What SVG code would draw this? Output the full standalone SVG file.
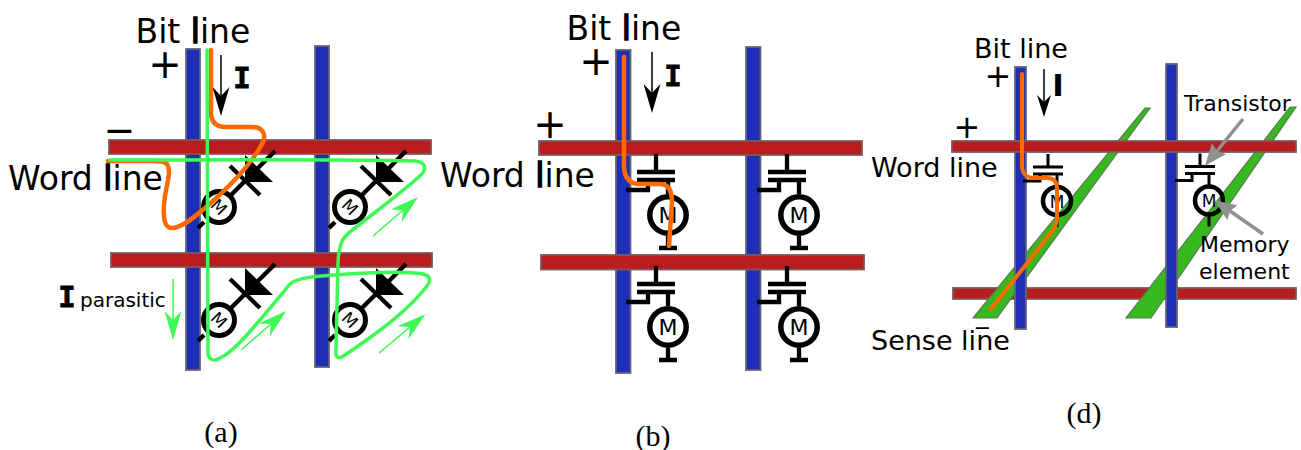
<svg xmlns="http://www.w3.org/2000/svg" width="1301" height="450" viewBox="0 0 1301 450">
<style>
text{font-family:"DejaVu Sans",sans-serif;fill:#000}
.cap{font-family:"Liberation Serif",serif;font-size:30px;text-anchor:middle}
.l32{font-size:33px}.l26{font-size:27px}.l21{font-size:22px}
.hv{stroke:#000;stroke-width:1.4px}
.pm{text-anchor:middle}
.cur{font-family:"DejaVu Sans Mono",monospace;font-weight:bold;text-anchor:middle;stroke:#000;stroke-width:.8px}
.r{fill:#b81c1c;stroke:#7d5a5a;stroke-width:1.8}
.b{fill:#1f2eb8;stroke:#62667c;stroke-width:1.8}
.g{fill:#35b91e;stroke:#5a7a55;stroke-width:1.2}
.or{fill:none;stroke:#ff6a00;stroke-width:4.5;stroke-linecap:round;stroke-linejoin:round}
.gr{fill:none;stroke:#3cfb55;stroke-width:3.5;stroke-linecap:round;stroke-linejoin:round}
.w{fill:none;stroke:#000;stroke-width:4.3}
.w3{fill:none;stroke:#000;stroke-width:3}
.ci{fill:#fff;fill-opacity:0;stroke:#000}
.ar{fill:none;stroke:#000;stroke-width:1.5}
.ag{fill:none;stroke:#3cfb55;stroke-width:1.6}
.agr{fill:none;stroke:#909090;stroke-width:3.5}
</style>
<defs>
<marker id="hb" markerUnits="userSpaceOnUse" markerWidth="29" markerHeight="17" refX="9" refY="8.5" orient="auto"><path d="M0,0L29,8.5L0,17L9,8.5z" fill="#000"/></marker>
<marker id="hbs" markerUnits="userSpaceOnUse" markerWidth="22" markerHeight="14" refX="7" refY="7" orient="auto"><path d="M0,0L22,7L0,14L7,7z" fill="#000"/></marker>
<marker id="hg" markerUnits="userSpaceOnUse" markerWidth="29" markerHeight="17" refX="9" refY="8.5" orient="auto"><path d="M0,0L29,8.5L0,17L9,8.5z" fill="#3cfb55"/></marker>
<marker id="hy" markerUnits="userSpaceOnUse" markerWidth="22" markerHeight="18" refX="3" refY="9" orient="auto"><path d="M0,0L22,9L0,18L3,9z" fill="#909090"/></marker>
<g id="diodeCell">
<path class="w" d="M-21,21L-15,15M11,-11L56,-56"/>
<circle class="ci" r="15.5" stroke-width="5"/>
<path d="M26,-52L54,-25L26,-25z" fill="#000"/>
<path class="w" d="M11,-41L41,-12"/>
<text transform="rotate(45)" y="6" text-anchor="middle" font-size="17">M</text>
</g>
<g id="fetCell">
<path class="w" d="M-12,-61V-43M-31,-43H7M-31,-35H7M-42,-25H-20V-35M0,-35V-21M0,21V33M-9,33H9"/>
<circle class="ci" r="18.2" stroke-width="5.500"/>
<text y="8" text-anchor="middle" font-size="22">M</text>
</g>
<g id="fetCellS">
<path class="w3" d="M-9,-47V-34M-24,-34H6M-24,-27H6M-34,-20H-17V-27M0,-27V-15M0,15V26"/>
<circle class="ci" r="14" stroke-width="4.500"/>
<text y="6.5" text-anchor="middle" font-size="17">M</text>
</g>
</defs>

<g id="panel-a">
<rect class="b" x="186" y="49" width="14" height="321"/>
<rect class="b" x="315" y="46" width="14" height="321"/>
<rect class="r" x="109" y="140" width="322" height="14"/>
<rect class="r" x="111" y="253" width="321" height="14"/>
<g id="cell-a1"><use href="#diodeCell" x="219" y="207"/></g>
<g id="cell-a2"><use href="#diodeCell" x="350" y="207"/></g>
<g id="cell-a3"><use href="#diodeCell" x="219" y="320"/></g>
<g id="cell-a4"><use href="#diodeCell" x="350" y="320"/></g>
</g>
<g id="panel-b">
<rect class="b" x="616" y="50" width="14.500" height="323"/>
<rect class="b" x="746" y="47" width="14.500" height="323"/>
<rect class="r" x="539" y="141" width="323" height="14"/>
<rect class="r" x="541" y="255" width="323" height="14.500"/>
<g id="cell-b1"><use href="#fetCell" x="668" y="215"/></g>
<g id="cell-b2"><use href="#fetCell" x="799" y="215"/></g>
<g id="cell-b3"><use href="#fetCell" x="668" y="327"/></g>
<g id="cell-b4"><use href="#fetCell" x="799" y="327"/></g>
</g>
<g id="panel-d">
<rect class="r" x="953" y="288" width="343" height="11"/>
<path class="g" d="M1145,108L1150,108L997,318L973,318z"/>
<path class="g" d="M1290,107L1296,107L1151,318L1126,318z"/>
<rect class="b" x="1015" y="67" width="11" height="262"/>
<rect class="b" x="1166" y="64" width="11" height="263"/>
<rect class="r" x="952" y="141" width="344" height="11"/>
<g id="cell-d1"><use href="#fetCellS" x="1057" y="201"/></g>
<g id="cell-d2"><use href="#fetCellS" x="1209" y="200.500"/></g>
</g>
<g id="connectors">
<path class="or" d="M211,50V112C211,122 216,127 226,127H252C263,127 267,135 262,144C250,166 226,190 205,208C190,221 180,228 172,228C165,228 163,220 164,205C165,190 169,180 169,172C169,163 165,161 155,161H108"/>
<path class="gr" d="M207,50L208,352C208,360 214,362 220,358C234,352 250,332 290,284C296,278 310,276 367,273C390,272 410,272 423,274C431,276 431,281 427,286C410,308 385,328 345,355C338,360 335,358 336,348L338,262C339,245 342,238 350,232C375,212 405,190 422,174C427,168 425,162 415,161C350,159 200,160 110,160"/>
<path class="ar" d="M221,55V96" marker-end="url(#hb)"/>
<path class="ag" d="M173,279V320" marker-end="url(#hg)"/>
<path class="ag" d="M241,350L271,324" marker-end="url(#hg)"/>
<path class="ag" d="M379,353L410,327" marker-end="url(#hg)"/>
<path class="ag" d="M373,236L403,210" marker-end="url(#hg)"/>
<path class="or" d="M624,57V165C624,178 630,184 640,184H660C668,184 672,190 672,202L669,246"/>
<path class="ar" d="M652,52V93" marker-end="url(#hb)"/>
<path class="or" style="stroke-width:4" d="M1022,74V165C1022,174 1026,178 1036,178H1048C1054,178 1057,182 1057,190V218C1057,224 1055,228 1050,234L991,309"/>
<path class="ar" d="M1044,69V102" marker-end="url(#hbs)"/>
<path class="agr" d="M1243,119L1217,151" marker-end="url(#hy)"/>
<path class="agr" d="M1263,234L1230,211" marker-end="url(#hy)"/>
</g>
<g id="labels">
<text class="l32" x="135.500" y="43">Bit <tspan class="hv">l</tspan>ine</text>
<text class="pm" font-size="40" x="165" y="78">+</text>
<text class="pm" font-size="38" x="119.500" y="143">−</text>
<text class="cur" font-size="29" x="242" y="88">I</text>
<text class="l32" x="8" y="190">Word <tspan class="hv">l</tspan>ine</text>
<text class="cur" font-size="29" x="67" y="307">I</text>
<text font-size="20" x="80" y="307">parasitic</text>
<text class="cap" x="221" y="442">(a)</text>
<text class="l32" x="566.500" y="40">Bit <tspan class="hv">l</tspan>ine</text>
<text class="pm" font-size="40" x="596" y="75">+</text>
<text class="pm" font-size="40" x="550" y="138">+</text>
<text class="cur" font-size="29" x="673" y="86">I</text>
<text class="l32" x="440" y="187">Word <tspan class="hv">l</tspan>ine</text>
<text class="cap" x="653" y="446">(b)</text>
<text class="l26" x="974" y="58">Bit line</text>
<text class="pm" font-size="32" x="998" y="87">+</text>
<text class="pm" font-size="32" x="967" y="138">+</text>
<text font-size="31" font-weight="bold" text-anchor="middle" x="1058" y="96">I</text>
<text class="l26" x="871" y="177">Word line</text>
<text class="l26" x="871" y="350">Sense line</text>
<text class="pm" font-size="21" x="982.500" y="334.500">−</text>
<text class="l21" x="1184" y="111">Transistor</text>
<text class="l21" x="1200" y="252">Memory</text>
<text class="l21" x="1199" y="279">element</text>
<text class="cap" x="1084" y="423">(d)</text>
</g>
</svg>
